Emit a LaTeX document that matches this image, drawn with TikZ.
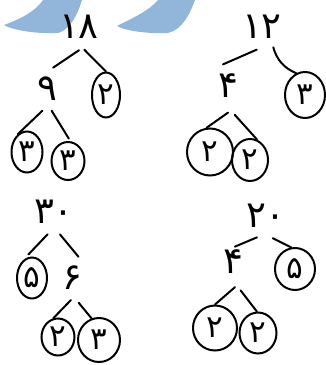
\documentclass[tikz,border=0pt]{standalone}
\usepackage{fontspec}
\newfontfamily\digitfont[Script=Arabic]{DejaVu Sans}
\usetikzlibrary{shapes.geometric}
\definecolor{brushblue}{RGB}{146,181,218}

\begin{document}
\begin{tikzpicture}[x=1pt, y=-1pt]
  \tikzstyle{num} = [circle, inner sep=0pt, minimum size=44pt, font=\digitfont\fontsize{37}{37}\selectfont]
  \tikzstyle{circ} = [ellipse, draw, line width=2pt, inner sep=0pt, font=\digitfont\fontsize{31}{31}\selectfont]
  \tikzstyle{edge} = [line width=2pt, line cap=round]

  \useasboundingbox (0,0) rectangle (325,365);

  \fill[brushblue] (43,0) -- (82,0) .. controls (78,14) and (70,30) .. (58,33)
    .. controls (40,34) and (14,31) .. (4,25) .. controls (20,19) and (35,12) .. (43,0) -- cycle;
  \fill[brushblue] (158,0) -- (195,0) .. controls (190,14) and (182,30) .. (168,33)
    .. controls (150,34) and (125,31) .. (117,26) .. controls (128,20) and (148,12) .. (158,0) -- cycle;

  \node[num] (t18) at (79,27) {۱۸};
  \node[num] (t9) at (47,89) {۹};
  \node[circ, minimum width=28pt, minimum height=45pt] (t2) at (106,95) {۲};
  \node[circ, minimum width=31pt, minimum height=41pt] (t3a) at (27,152) {۳};
  \node[circ, minimum width=33pt, minimum height=38pt] (t3b) at (68,161) {۳};

  \node[num] (r12) at (262,27) {۱۲};
  \node[num] (r4) at (228,86) {۴};
  \node[circ, minimum width=40pt, minimum height=46pt] (r3) at (305,95) {۳};
  \node[circ, minimum width=46pt, minimum height=47pt] (r2a) at (210,152) {۲};
  \node[circ, minimum width=36pt, minimum height=42pt] (r2b) at (250,160) {۲};

  \node[num] (b30) at (54,212) {۳۰};
  \node[circ, minimum width=30pt, minimum height=41pt] (b5) at (32,278) {۵};
  \node[num] (b6) at (72,278) {۶};
  \node[circ, minimum width=33pt, minimum height=37pt] (b2) at (58,337) {۲};
  \node[circ, minimum width=42pt, minimum height=44pt] (b3) at (99,340) {۳};

  \node[num] (d20) at (266,216) {۲۰};
  \node[num] (d4) at (233,262) {۴};
  \node[circ, minimum width=40pt, minimum height=42pt] (d5) at (295,269) {۵};
  \node[circ, minimum width=44pt, minimum height=45pt] (d2a) at (215,328) {۲};
  \node[circ, minimum width=37pt, minimum height=41pt] (d2b) at (258,333) {۲};

  \draw[edge] (t18.270) -- (t9.74);
  \draw[edge] (t18.283) -- (t2.north);
  \draw[edge] (t9.258) -- (t3a.117);
  \draw[edge, shorten >=3pt] (t9.282) -- (t3b.83);

  \draw[edge] (r12.257) -- (r4.103);
  \draw[edge] (r12.299) to[bend right=25] (r3.112);
  \draw[edge, shorten <=11pt] (r4.294) -- (r2a.98);
  \draw[edge, shorten <=9pt] (r4.272) -- (r2b.71);

  \draw[edge, shorten >=9pt] (b30.254) -- (b5.120);
  \draw[edge] (b30.285) -- (b6.73);
  \draw[edge] (b6.267) -- (b2.104);
  \draw[edge, shorten <=4pt] (b6.281) -- (b3.109);

  \draw[edge, shorten >=-10pt] (d20.247) -- (d4.60);
  \draw[edge] (d20.287) -- (d5.100);
  \draw[edge, shorten <=6pt] (d4.287) -- (d2a.north);
  \draw[edge, shorten <=8pt] (d4.277) -- (d2b.93);
\end{tikzpicture}
\end{document}
